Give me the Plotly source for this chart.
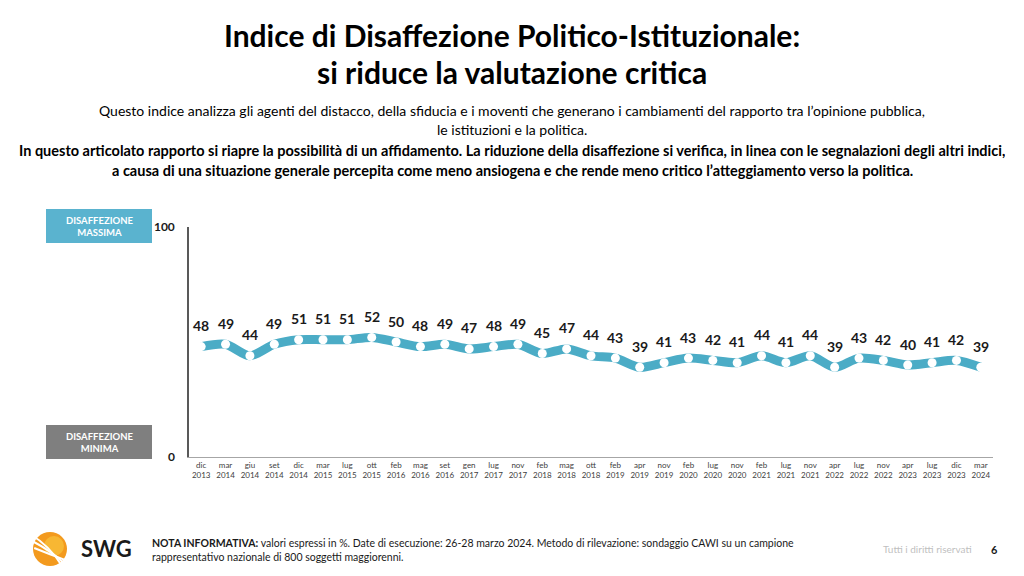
import plotly.graph_objects as go

months = ["dic","mar","giu","set","dic","mar","lug","ott","feb","mag","set","gen","lug","nov",
          "feb","mag","ott","feb","apr","nov","feb","lug","nov","feb","lug","nov","apr","lug",
          "nov","apr","lug","dic","mar"]
years = ["2013","2014","2014","2014","2014","2015","2015","2015","2016","2016","2016","2017","2017","2017",
         "2018","2018","2018","2019","2019","2019","2020","2020","2020","2021","2021","2021","2022","2022",
         "2022","2023","2023","2023","2024"]
values = [48,49,44,49,51,51,51,52,50,48,49,47,48,49,45,47,44,43,39,41,43,42,41,44,41,44,39,43,42,40,41,42,39]

categories = [f"{m} {y}" for m, y in zip(months, years)]
tick_labels = [f"{m}<br>{y}" for m, y in zip(months, years)]

FONT = "Lato, 'Open Sans', sans-serif"
BLUE = "#4BACC6"

fig = go.Figure()
fig.add_trace(go.Scatter(
    x=categories, y=values, mode="lines+markers",
    line=dict(color=BLUE, width=9, shape="spline", smoothing=0.8),
    marker=dict(color="white", size=9, line=dict(width=0)),
    hoverinfo="x+y", showlegend=False,
))

for c, v in zip(categories, values):
    fig.add_annotation(x=c, y=v, text=f"<b>{v}</b>", showarrow=False, yshift=21,
                       font=dict(family=FONT, size=14, color="#1a1a1a"))

fig.update_layout(
    width=1024, height=576, autosize=False,
    margin=dict(l=189, r=31, t=227, b=119),
    paper_bgcolor="white", plot_bgcolor="white",
    font=dict(family=FONT),
    xaxis=dict(type="category", tickmode="array", tickvals=categories, ticktext=tick_labels,
               range=[-0.5, len(categories) - 0.5], showgrid=False, zeroline=False,
               showline=True, linecolor="#a6a6a6", linewidth=1, ticks="",
               tickfont=dict(family=FONT, size=8, color="#404040"), fixedrange=True),
    yaxis=dict(range=[0, 100], tickvals=[0, 100], ticktext=["<b>0</b>", "<b>100</b>"],
               showgrid=False, zeroline=False, showline=True, linecolor="#595959", linewidth=1.5,
               ticks="", ticklabelstandoff=10,
               tickfont=dict(family=FONT, size=12, color="#1a1a1a"), fixedrange=True),
)

def px(x): return (x - 189) / 804
def py(y): return (457 - y) / 230

def paper_text(x, y, text, size, color="black", xanchor="center", yanchor="middle", align="center", height=None):
    fig.add_annotation(xref="paper", yref="paper", x=px(x), y=py(y),
                       xanchor=xanchor, yanchor=yanchor, align=align, text=text, showarrow=False,
                       height=height,
                       font=dict(family=FONT, size=size, color=color))

# Title and intro text
paper_text(512, 35, "<b>Indice di Disaffezione Politico-Istituzionale:</b>", 30, height=34)
paper_text(512, 72, "<b>si riduce la valutazione critica</b>", 30, height=34)
paper_text(512, 110, "Questo indice analizza gli agenti del distacco, della sfiducia e i moventi che generano i cambiamenti del rapporto tra l’opinione pubblica,", 14, height=18)
paper_text(512, 129, "le istituzioni e la politica.", 14, height=18)
paper_text(512, 150, "<b>In questo articolato rapporto si riapre la possibilità di un affidamento. La riduzione della disaffezione si verifica, in linea con le segnalazioni degli altri indici,</b>", 14.5, height=19)
paper_text(512, 170, "<b>a causa di una situazione generale percepita come meno ansiogena e che rende meno critico l’atteggiamento verso la politica.</b>", 14.5, height=19)

# side boxes
for y0, y1, col, txt in [(209, 243, "#5AB3CF", "DISAFFEZIONE<br>MASSIMA"),
                         (425, 459, "#7F7F7F", "DISAFFEZIONE<br>MINIMA")]:
    fig.add_shape(type="rect", xref="paper", yref="paper",
                  x0=px(46), x1=px(152), y0=py(y1), y1=py(y0),
                  fillcolor=col, line=dict(width=0), layer="below")
    paper_text(99, (y0 + y1) / 2, f"<b>{txt}</b>", 9.5, color="white")

# footer
paper_text(150, 550, "<b>NOTA INFORMATIVA:</b> valori espressi in %. Date di esecuzione: 26-28 marzo 2024. Metodo di rilevazione: sondaggio CAWI su un campione<br>rappresentativo nazionale di 800 soggetti maggiorenni.",
           10.5, color="#1a1a1a", xanchor="left", align="left")
paper_text(974, 549, "Tutti i diritti riservati", 10, color="#bfbfbf", xanchor="right")
paper_text(994, 549, "<b>6</b>", 11, color="#1a1a1a")
paper_text(79, 548, "<b>SWG</b>", 22, color="#1a1a1a", xanchor="left")

# logo sphere
fig.add_shape(type="circle", xref="paper", yref="paper", x0=px(33), x1=px(67), y0=py(566), y1=py(532),
              fillcolor="#F39A1E", line=dict(width=0))
fig.add_shape(type="circle", xref="paper", yref="paper", x0=px(44), x1=px(64), y0=py(556), y1=py(536),
              fillcolor="#F7B733", line=dict(width=0))
for off in (0, 7, 14):
    fig.add_shape(type="path", xref="paper", yref="paper",
                  path=f"M {px(30+off*0.3)},{py(534+off)} Q {px(50)},{py(546+off*0.6)} {px(62+off*0.3)},{py(566-off*0.4)}",
                  line=dict(color="white", width=2))

fig.write_html("out.html", config={"displayModeBar": False},
               post_script="document.body.style.margin='0';document.body.style.padding='0';")
